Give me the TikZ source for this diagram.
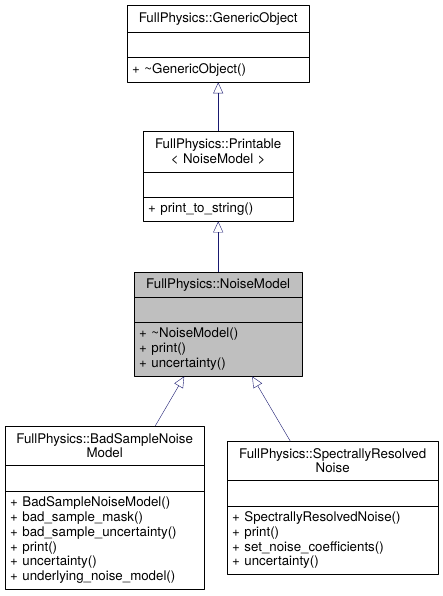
\documentclass[tikz,border=0pt]{standalone}
\usepackage{fontspec}
\setmainfont{TeX Gyre Heros}
\usepackage{tikz}
\usetikzlibrary{arrows.meta}
\definecolor{edgecol}{HTML}{191970}
\definecolor{fillcol}{HTML}{BFBFBF}

\begin{document}
\begin{tikzpicture}[x=1pt,y=-1pt,line join=bevel,
  part/.style={draw,anchor=north west,inner xsep=5pt,inner ysep=0pt,
    font=\fontsize{13.3}{14.7}\selectfont},
  inherit/.style={edgecol,-{Triangle[open,length=11pt,width=10pt]}}]
\useasboundingbox (0,0) rectangle (443,596);
%%
\node (go) at (127,5) [part,text width=172pt,minimum height=27pt,align=center] {FullPhysics::GenericObject};
  \node (go-a) at (127,32) [part,text width=172pt,minimum height=25pt] {};
  \node (go-m) at (127,57) [part,text width=172pt,minimum height=25pt,align=left] {+ \textasciitilde GenericObject()};
\node (pr) at (143,131) [part,text width=140pt,minimum height=41pt,align=center] {FullPhysics::Printable\\ < NoiseModel >};
  \node (pr-a) at (143,172) [part,text width=140pt,minimum height=25pt] {};
  \node (pr-m) at (143,197) [part,text width=140pt,minimum height=24pt,align=left] {+ print\_to\_string()};
\node (nm) at (134,272) [part,fill=fillcol,text width=158pt,minimum height=25pt,align=center] {FullPhysics::NoiseModel};
  \node (nm-a) at (134,297) [part,fill=fillcol,text width=158pt,minimum height=25pt] {};
  \node (nm-m) at (134,322) [part,fill=fillcol,text width=158pt,minimum height=54pt,align=left] {+ \textasciitilde NoiseModel()\\ + print()\\ + uncertainty()};
\node (bs) at (5,426) [part,text width=189pt,minimum height=39pt,align=center] {FullPhysics::BadSampleNoise\\ Model};
  \node (bs-a) at (5,465) [part,text width=189pt,minimum height=26pt] {};
  \node (bs-m) at (5,491) [part,text width=189pt,minimum height=98pt,align=left] {+ BadSampleNoiseModel()\\ + bad\_sample\_mask()\\ + bad\_sample\_uncertainty()\\ + print()\\ + uncertainty()\\ + underlying\_noise\_model()};
\node (sr) at (227,441) [part,text width=201pt,minimum height=39pt,align=center] {FullPhysics::SpectrallyResolved\\ Noise};
  \node (sr-a) at (227,480) [part,text width=201pt,minimum height=26pt] {};
  \node (sr-m) at (227,506) [part,text width=201pt,minimum height=68pt,align=left] {+ SpectrallyResolvedNoise()\\ + print()\\ + set\_noise\_coefficients()\\ + uncertainty()};
%
  \draw [inherit] (pr.north) -- (go-m.south);
  \draw [inherit] (nm.north) -- (pr-m.south);
  \draw [inherit] ([xshift=50.5pt]bs.north) -- ([xshift=-34pt]nm-m.south);
  \draw [inherit] ([xshift=-42.5pt]sr.north) -- ([xshift=34pt]nm-m.south);
%
\end{tikzpicture}
\end{document}
